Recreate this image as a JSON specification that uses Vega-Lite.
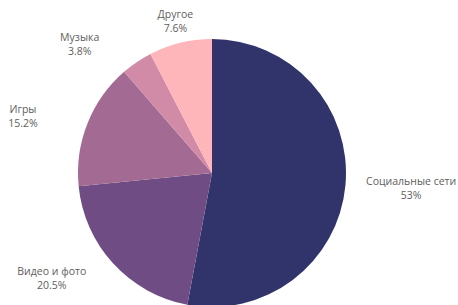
{
  "$schema": "https://vega.github.io/schema/vega-lite/v6.json",
  "autosize": "none",
  "width": 424,
  "height": 264,
  "padding": {"left": 0, "top": 41, "right": 34, "bottom": 0},
  "background": "white",
  "data": {"values": [
    {"idx": 1, "category": "Социальные сети", "value": 53, "label": "Социальные сети\n53%"},
    {"idx": 2, "category": "Видео и фото", "value": 20.5, "label": "Видео и фото\n20.5%"},
    {"idx": 3, "category": "Игры", "value": 15.2, "label": "Игры\n15.2%"},
    {"idx": 4, "category": "Музыка", "value": 3.8, "label": "Музыка\n3.8%"},
    {"idx": 5, "category": "Другое", "value": 7.6, "label": "Другое\n7.6%"}
  ]},
  "encoding": {
    "theta": {"field": "value", "type": "quantitative", "stack": true},
    "order": {"field": "idx", "type": "quantitative"},
    "color": {
      "field": "category", "type": "nominal", "legend": null,
      "scale": {
        "domain": ["Социальные сети", "Видео и фото", "Игры", "Музыка", "Другое"],
        "range": ["#30346a", "#704c84", "#a36a93", "#d28ba6", "#ffb6bb"]
      }
    }
  },
  "layer": [
    {"mark": {"type": "arc", "outerRadius": 134}},
    {
      "mark": {"type": "text", "radius": 200, "dx": 0, "dy": -9, "font": "Open Sans", "fontSize": 10.5, "lineBreak": "\n", "lineHeight": 14, "baseline": "middle", "align": "center"},
      "encoding": {"text": {"condition": {"test": "datum.category === 'Социальные сети'", "field": "label"}, "value": ""}, "color": {"value": "#5e5e5e"}}
    },
    {
      "mark": {"type": "text", "radius": 193, "dx": -18, "dy": -31, "font": "Open Sans", "fontSize": 10.5, "lineBreak": "\n", "lineHeight": 14, "baseline": "middle", "align": "center"},
      "encoding": {"text": {"condition": {"test": "datum.category === 'Видео и фото'", "field": "label"}, "value": ""}, "color": {"value": "#5e5e5e"}}
    },
    {
      "mark": {"type": "text", "radius": 197, "dx": -6, "dy": 10, "font": "Open Sans", "fontSize": 10.5, "lineBreak": "\n", "lineHeight": 14, "baseline": "middle", "align": "center"},
      "encoding": {"text": {"condition": {"test": "datum.category === 'Игры'", "field": "label"}, "value": ""}, "color": {"value": "#5e5e5e"}}
    },
    {
      "mark": {"type": "text", "radius": 184, "dx": -29, "dy": 17, "font": "Open Sans", "fontSize": 10.5, "lineBreak": "\n", "lineHeight": 14, "baseline": "middle", "align": "center"},
      "encoding": {"text": {"condition": {"test": "datum.category === 'Музыка'", "field": "label"}, "value": ""}, "color": {"value": "#5e5e5e"}}
    },
    {
      "mark": {"type": "text", "radius": 155, "dx": 0, "dy": -7, "font": "Open Sans", "fontSize": 10.5, "lineBreak": "\n", "lineHeight": 14, "baseline": "middle", "align": "center"},
      "encoding": {"text": {"condition": {"test": "datum.category === 'Другое'", "field": "label"}, "value": ""}, "color": {"value": "#5e5e5e"}}
    }
  ]
}
